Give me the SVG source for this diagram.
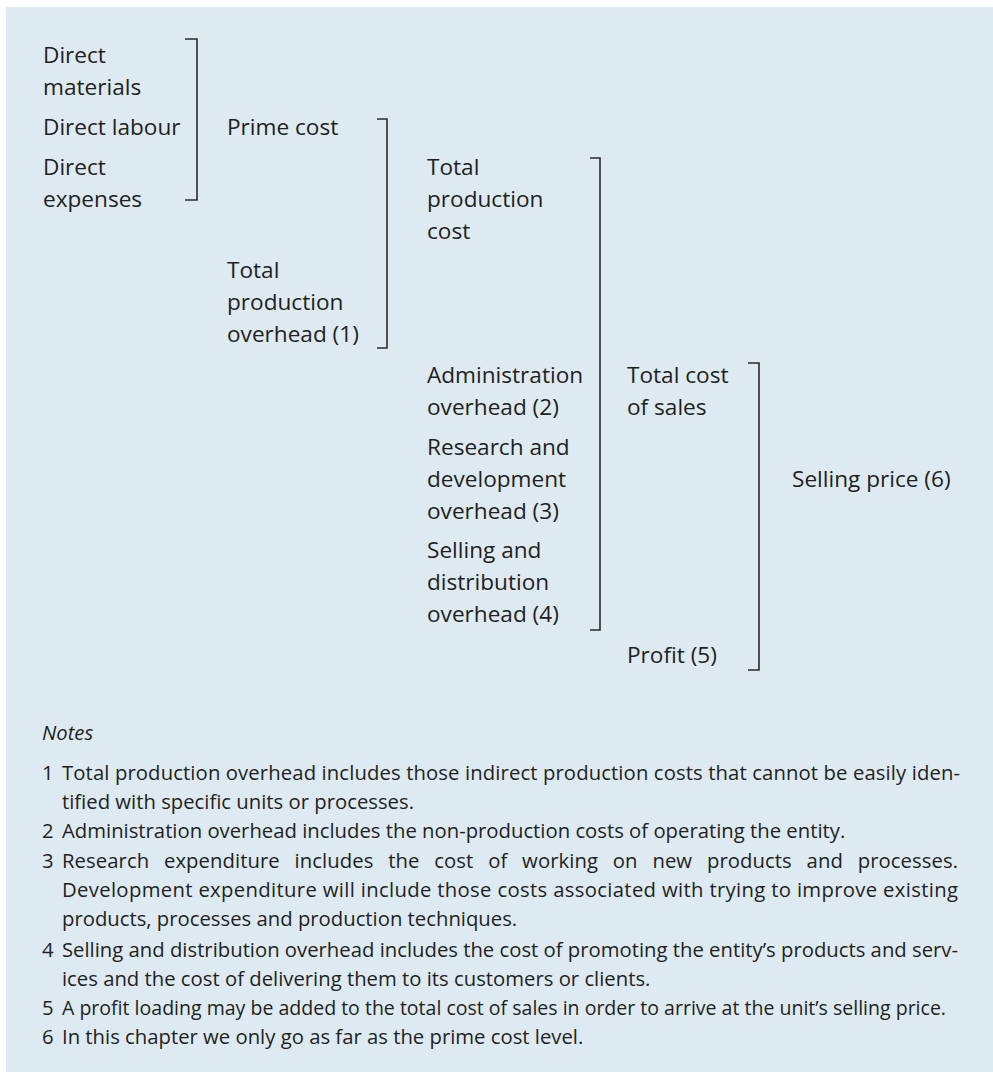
<svg xmlns="http://www.w3.org/2000/svg" width="993" height="1072" viewBox="0 0 993 1072">
<style>
.t{font-family:"Open Sans","Noto Sans","Liberation Sans",sans-serif;font-size:22.6px;fill:#231f20}
.n{font-family:"Open Sans","Noto Sans","Liberation Sans",sans-serif;font-size:20.3px;fill:#231f20}
.br{fill:none;stroke:#2b2b2b;stroke-width:1.6}
</style>
<rect x="6" y="7" width="987" height="1065" fill="#ddeaf2"/>
<g id="direct-materials"><text class="t" x="43" y="63">Direct</text><text class="t" x="43" y="95">materials</text></g>
<g id="direct-labour"><text class="t" x="43" y="135">Direct labour</text></g>
<g id="direct-expenses"><text class="t" x="43" y="175">Direct</text><text class="t" x="43" y="207">expenses</text></g>
<g id="prime-cost"><text class="t" x="227" y="135">Prime cost</text></g>
<g id="total-production-overhead"><text class="t" x="227" y="278">Total</text><text class="t" x="227" y="310">production</text><text class="t" x="227" y="342">overhead (1)</text></g>
<g id="total-production-cost"><text class="t" x="427" y="175">Total</text><text class="t" x="427" y="207">production</text><text class="t" x="427" y="239">cost</text></g>
<g id="administration-overhead"><text class="t" x="427" y="383">Administration</text><text class="t" x="427" y="415">overhead (2)</text></g>
<g id="rd-overhead"><text class="t" x="427" y="455">Research and</text><text class="t" x="427" y="487">development</text><text class="t" x="427" y="519">overhead (3)</text></g>
<g id="selling-distribution-overhead"><text class="t" x="427" y="558">Selling and</text><text class="t" x="427" y="590">distribution</text><text class="t" x="427" y="622">overhead (4)</text></g>
<g id="total-cost-of-sales"><text class="t" x="627" y="383">Total cost</text><text class="t" x="627" y="415">of sales</text></g>
<g id="profit"><text class="t" x="627" y="663">Profit (5)</text></g>
<g id="selling-price"><text class="t" x="792" y="487">Selling price (6)</text></g>
<g id="connectors">
<polyline class="br" points="185,39 197,39 197,200 185,200"/>
<polyline class="br" points="377,119 387,119 387,348 377,348"/>
<polyline class="br" points="590,158 600,158 600,630 590,630"/>
<polyline class="br" points="748,363 759,363 759,670 748,670"/>
</g>
<g id="notes">
<text class="n" x="42" y="740" font-style="italic">Notes</text>
<text class="n" x="42" y="780">1</text>
<text class="n" x="62" y="780" textLength="898" lengthAdjust="spacing">Total production overhead includes those indirect production costs that cannot be easily iden-</text>
<text class="n" x="62" y="809">tified with specific units or processes.</text>
<text class="n" x="42" y="838">2</text>
<text class="n" x="62" y="838">Administration overhead includes the non-production costs of operating the entity.</text>
<text class="n" x="42" y="868">3</text>
<text class="n" x="62" y="868" word-spacing="9.5" textLength="896" lengthAdjust="spacing">Research expenditure includes the cost of working on new products and processes.</text>
<text class="n" x="62" y="897" textLength="896" lengthAdjust="spacing">Development expenditure will include those costs associated with trying to improve existing</text>
<text class="n" x="62" y="926">products, processes and production techniques.</text>
<text class="n" x="42" y="957">4</text>
<text class="n" x="62" y="957" textLength="896" lengthAdjust="spacing">Selling and distribution overhead includes the cost of promoting the entity’s products and serv-</text>
<text class="n" x="62" y="986">ices and the cost of delivering them to its customers or clients.</text>
<text class="n" x="42" y="1015">5</text>
<text class="n" x="62" y="1015" textLength="884" lengthAdjust="spacingAndGlyphs">A profit loading may be added to the total cost of sales in order to arrive at the unit’s selling price.</text>
<text class="n" x="42" y="1044">6</text>
<text class="n" x="62" y="1044">In this chapter we only go as far as the prime cost level.</text>
</g>
</svg>
